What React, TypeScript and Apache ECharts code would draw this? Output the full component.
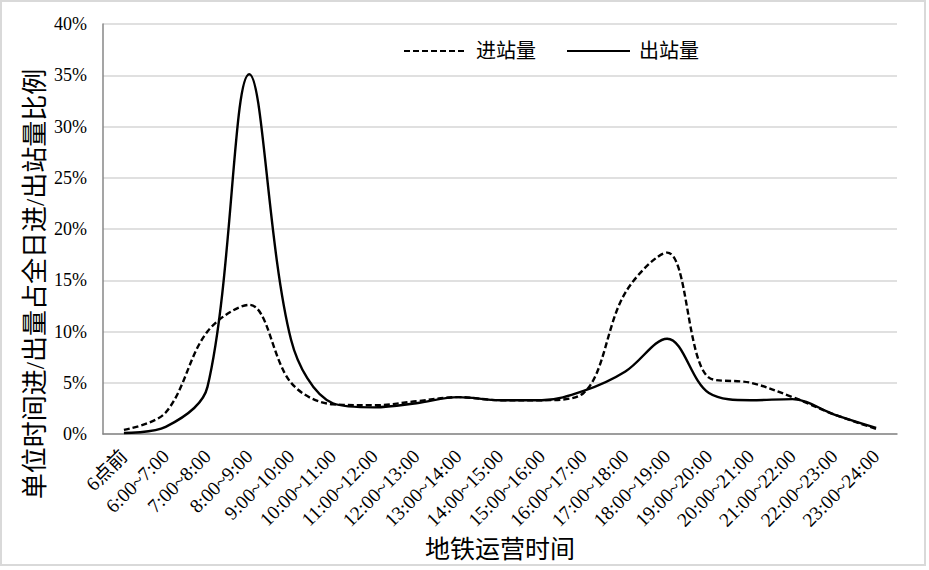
import React, { useEffect, useRef } from "react";
import * as echarts from "echarts";

const categories = [
  "6点前", "6:00~7:00", "7:00~8:00", "8:00~9:00", "9:00~10:00", "10:00~11:00",
  "11:00~12:00", "12:00~13:00", "13:00~14:00", "14:00~15:00", "15:00~16:00",
  "16:00~17:00", "17:00~18:00", "18:00~19:00", "19:00~20:00", "20:00~21:00",
  "21:00~22:00", "22:00~23:00", "23:00~24:00",
];
const inbound = [0.4, 2.1, 10.0, 12.6, 5.0, 2.9, 2.8, 3.2, 3.6, 3.3, 3.3, 4.0, 13.8, 17.7, 5.5, 5.0, 3.6, 1.9, 0.5];
const outbound = [0.1, 0.7, 4.6, 35.1, 9.2, 3.0, 2.6, 3.0, 3.6, 3.3, 3.3, 4.2, 6.1, 9.3, 4.0, 3.3, 3.4, 1.9, 0.6];
const seriesNames = ["进站量", "出站量"];
const yAxisTitle = "单位时间进/出量占全日进/出站量比例";
const xAxisTitle = "地铁运营时间";

const FONT = '"Liberation Serif", "DejaVu Serif", "Noto Sans CJK SC", serif';

export default function App() {
  const ref = useRef<HTMLDivElement>(null);
  useEffect(() => {
    document.body.style.margin = "0";
    const chart = echarts.init(ref.current!, null, { renderer: "svg" });
    chart.setOption({
      animation: false,
      textStyle: { fontFamily: FONT, color: "#000" },
      grid: { left: 103, right: 32, top: 24, bottom: 136, containLabel: false },
      legend: {
        left: 398,
        top: 36,
        itemWidth: 63,
        itemHeight: 14,
        itemGap: 30,
        itemStyle: { opacity: 0 },
        textStyle: { fontSize: 20, color: "#000", fontFamily: FONT, padding: [0, 0, 0, 4] },
        data: seriesNames,
      },
      xAxis: {
        type: "category",
        data: categories,
        boundaryGap: true,
        name: xAxisTitle,
        nameLocation: "middle",
        nameGap: 100,
        nameTextStyle: { fontSize: 25, color: "#000", fontFamily: FONT },
        axisLine: { lineStyle: { color: "#878787", width: 1.5 } },
        axisTick: { inside: true, length: 5, lineStyle: { color: "#878787", width: 1.5 } },
        axisLabel: { rotate: 45, fontSize: 19.5, color: "#000", margin: 19, interval: 0, fontFamily: FONT },
      },
      yAxis: {
        type: "value",
        min: 0,
        max: 40,
        interval: 5,
        axisLine: { show: true, lineStyle: { color: "#878787", width: 1.5 } },
        axisTick: { show: false },
        axisLabel: { formatter: "{value}%", fontSize: 18, color: "#000", margin: 16, fontFamily: FONT },
        splitLine: { lineStyle: { color: "#d6d6d6", width: 1.5 } },
      },
      graphic: [
        {
          type: "rect",
          shape: { x: 1, y: 1, width: 924, height: 564 },
          style: { fill: "none", stroke: "#d9d9d9", lineWidth: 2 },
          silent: true,
        },
        {
          type: "text",
          x: 35,
          y: 284,
          rotation: Math.PI / 2,
          style: {
            text: yAxisTitle,
            fontSize: 26,
            fontFamily: FONT,
            fill: "#000",
            align: "center",
            verticalAlign: "middle",
          },
        },
      ],
      series: [
        {
          name: seriesNames[0],
          type: "line",
          data: inbound,
          smooth: 0.35,
          symbol: "none",
          lineStyle: { color: "#000", width: 2.4, type: [6, 3] },
          itemStyle: { color: "#000" },
        },
        {
          name: seriesNames[1],
          type: "line",
          data: outbound,
          smooth: 0.35,
          symbol: "none",
          lineStyle: { color: "#000", width: 2.4, type: "solid" },
          itemStyle: { color: "#000" },
        },
      ],
    });
    return () => chart.dispose();
  }, []);
  return <div ref={ref} style={{ width: 929, height: 570 }} />;
}
